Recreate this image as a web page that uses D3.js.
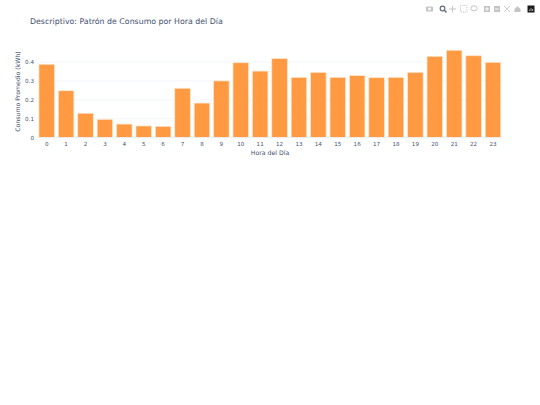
<!DOCTYPE html>
<html><head><meta charset="utf-8">
<script src="https://cdn.jsdelivr.net/npm/d3@7"></script>
<style>html,body{margin:0;padding:0;background:#fff}svg{display:block}text{font-family:"DejaVu Sans",Verdana,sans-serif;text-rendering:geometricPrecision}</style>
</head><body><svg id="c" width="540" height="405"></svg>
<script>
const hours=["0","1","2","3","4","5","6","7","8","9","10","11","12","13","14","15","16","17","18","19","20","21","22","23"];
const consumo=[.388,.248,.129,.097,.072,.062,.06,.261,.183,.30,.396,.352,.418,.319,.345,.319,.328,.317,.319,.345,.43,.462,.433,.398];
const yTicks=[0,.1,.2,.3,.4];
const titleText="Descriptivo: Patrón de Consumo por Hora del Día";
const xTitle="Hora del Día", yTitle="Consumo Promedio (kWh)";
const ink="#3f5270";
const svg=d3.select("#c");
const x=d3.scaleBand().domain(hours).range([37,502.7]).paddingInner(.2).paddingOuter(.1);
const y=d3.scaleLinear().domain([0,.4]).range([137.7,62]);
svg.append("g").selectAll("line").data(yTicks.slice(1)).join("line")
 .attr("x1",37).attr("x2",502.7).attr("y1",d=>y(d)).attr("y2",d=>y(d)).attr("stroke","#f2f5fa").attr("stroke-width",1);
svg.append("g").selectAll("rect").data(consumo).join("rect")
 .attr("x",(d,i)=>x(hours[i])).attr("width",x.bandwidth()).attr("y",d=>y(d)).attr("height",d=>y(0)-y(d))
 .attr("fill","#ff9a42").attr("stroke","#ffe6cc").attr("stroke-width",.7);
svg.append("line").attr("x1",37).attr("x2",502.7).attr("y1",y(0)).attr("y2",y(0)).attr("stroke","#ebf0f8").attr("stroke-width",1);
const ax=d3.axisBottom(x).tickSize(0).tickPadding(3);
const gx=svg.append("g").attr("transform",`translate(0,${y(0)})`).call(ax);
gx.select(".domain").remove();
gx.selectAll("text").attr("font-size",5.6).attr("fill",ink).attr("y",4).attr("dy","0.71em");
const ay=d3.axisLeft(y).tickValues(yTicks).tickFormat(d=>d===0?"0":d3.format(".1f")(d)).tickSize(0).tickPadding(3);
const gy=svg.append("g").attr("transform","translate(37,0)").call(ay);
gy.select(".domain").remove();
gy.selectAll("text").attr("font-size",5.6).attr("fill",ink);
svg.append("text").attr("x",30).attr("y",24.3).attr("font-size",7.85).attr("fill",ink).text(titleText);
svg.append("text").attr("x",270).attr("y",155).attr("text-anchor","middle").attr("font-size",6.2).attr("fill",ink).text(xTitle);
svg.append("text").attr("transform","translate(20,91.5) rotate(-90)").attr("text-anchor","middle").attr("font-size",6.2).attr("fill",ink).text(yTitle);
// modebar
const mb=svg.append("g").attr("fill","none").attr("stroke","#c4c4c4").attr("stroke-width",1);
const cam=mb.append("g").attr("transform","translate(429.5,9)");
cam.append("rect").attr("x",-3.5).attr("y",-2.5).attr("width",7).attr("height",5).attr("rx",1).attr("fill","#c4c4c4").attr("stroke","none");
cam.append("circle").attr("r",1.4).attr("fill","#fff").attr("stroke","none");
const zm=mb.append("g").attr("transform","translate(442.5,8.5)").attr("stroke","#5f6a78");
zm.append("circle").attr("r",2.3).attr("stroke-width",1.2);
zm.append("line").attr("x1",1.8).attr("y1",1.8).attr("x2",4).attr("y2",4).attr("stroke-width",1.5);
const pan=mb.append("g").attr("transform","translate(452.5,9)");
pan.append("line").attr("x1",-3.5).attr("x2",3.5);pan.append("line").attr("y1",-3.5).attr("y2",3.5);
mb.append("rect").attr("x",460.5).attr("y",5.5).attr("width",6.5).attr("height",6.5).attr("stroke-dasharray","1,1");
mb.append("ellipse").attr("cx",474).attr("cy",8.3).attr("rx",3.2).attr("ry",2.5);
[487,497].forEach((cx,i)=>{
 mb.append("rect").attr("x",cx-3).attr("y",6).attr("width",6).attr("height",6).attr("fill","#c4c4c4").attr("stroke","none");
 mb.append("line").attr("x1",cx-1.8).attr("x2",cx+1.8).attr("y1",9).attr("y2",9).attr("stroke","#fff");
 if(i===0)mb.append("line").attr("x1",cx).attr("x2",cx).attr("y1",7.2).attr("y2",10.8).attr("stroke","#fff");
});
mb.append("path").attr("d","M504 6L510 12M510 6L504 12").attr("stroke-width",.8);
mb.append("path").attr("d","M514.5 9L517.5 6.2L520.5 9V12H514.5Z").attr("fill","#c4c4c4").attr("stroke","none");
mb.append("rect").attr("x",527.5).attr("y",5.5).attr("width",7).attr("height",7).attr("fill","#1a1a1a").attr("stroke","none");
mb.append("path").attr("d","M529.5 11V9.5M531 11V8M532.5 11V9").attr("stroke","#ddd").attr("stroke-width",.7);
</script></body></html>
